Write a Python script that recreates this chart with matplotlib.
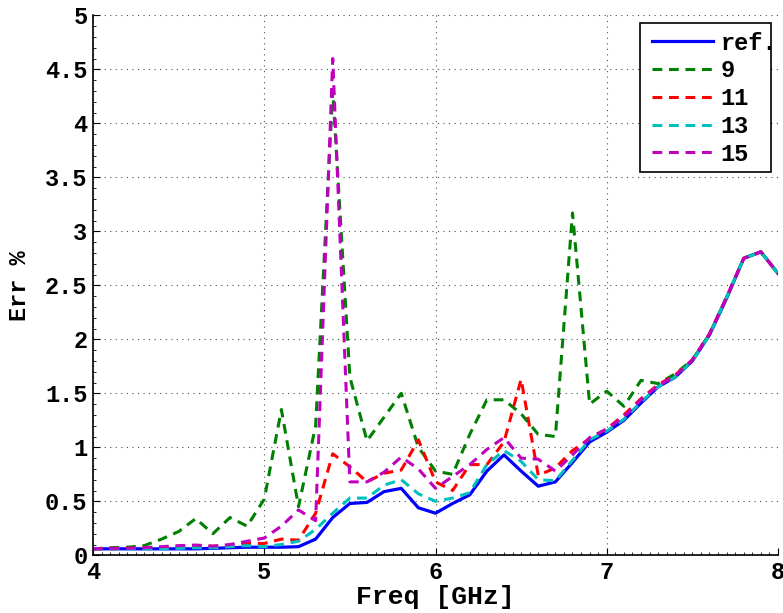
import matplotlib
matplotlib.use('Agg')
import matplotlib.pyplot as plt
from matplotlib.patches import Rectangle
from matplotlib.ticker import MultipleLocator, FuncFormatter

plt.rcParams['font.family'] = ['Liberation Mono', 'DejaVu Sans Mono']
plt.rcParams['font.weight'] = 'bold'

freq = [4.0, 4.1, 4.2, 4.3, 4.4, 4.5, 4.6, 4.7, 4.8, 4.9,
        5.0, 5.1, 5.2, 5.3, 5.4, 5.5, 5.6, 5.7, 5.8, 5.9,
        6.0, 6.1, 6.2, 6.3, 6.4, 6.5, 6.6, 6.7, 6.8, 6.9,
        7.0, 7.1, 7.2, 7.3, 7.4, 7.5, 7.6, 7.7, 7.8, 7.9, 8.0]

err_ref = [0.06, 0.06, 0.06, 0.06, 0.06, 0.06, 0.06, 0.065, 0.07, 0.075,
           0.075, 0.075, 0.08, 0.15, 0.35, 0.48, 0.49, 0.59, 0.62, 0.44,
           0.39, 0.48, 0.56, 0.78, 0.93, 0.78, 0.64, 0.68, 0.86, 1.05,
           1.14, 1.25, 1.41, 1.56, 1.65, 1.80, 2.04, 2.38, 2.75, 2.81, 2.61]

err_9 = [0.06, 0.07, 0.075, 0.09, 0.15, 0.22, 0.34, 0.20, 0.35, 0.27,
         0.52, 1.35, 0.45, 1.20, 4.30, 1.65, 1.06, 1.28, 1.50, 1.00,
         0.78, 0.75, 1.12, 1.44, 1.44, 1.31, 1.12, 1.10, 3.17, 1.40,
         1.52, 1.38, 1.62, 1.59, 1.68, 1.81, 2.05, 2.39, 2.75, 2.81, 2.61]

err_11 = [0.06, 0.06, 0.065, 0.07, 0.07, 0.075, 0.08, 0.085, 0.09, 0.11,
          0.11, 0.15, 0.14, 0.39, 0.94, 0.82, 0.68, 0.76, 0.79, 1.07,
          0.68, 0.60, 0.84, 0.84, 1.05, 1.63, 0.74, 0.81, 0.97, 1.08,
          1.17, 1.30, 1.45, 1.58, 1.67, 1.81, 2.05, 2.39, 2.75, 2.81, 2.61]

err_13 = [0.06, 0.06, 0.06, 0.06, 0.06, 0.065, 0.07, 0.07, 0.08, 0.09,
          0.08, 0.10, 0.13, 0.24, 0.39, 0.53, 0.53, 0.65, 0.70, 0.57,
          0.50, 0.53, 0.58, 0.84, 0.97, 0.87, 0.70, 0.69, 0.88, 1.07,
          1.15, 1.26, 1.42, 1.56, 1.65, 1.80, 2.04, 2.39, 2.75, 2.81, 2.61]

err_15 = [0.06, 0.065, 0.065, 0.07, 0.08, 0.09, 0.095, 0.085, 0.10, 0.13,
          0.16, 0.27, 0.42, 0.32, 4.60, 0.68, 0.68, 0.77, 0.91, 0.80,
          0.62, 0.73, 0.84, 0.98, 1.09, 0.90, 0.89, 0.78, 0.93, 1.09,
          1.17, 1.28, 1.44, 1.57, 1.66, 1.81, 2.05, 2.39, 2.75, 2.81, 2.61]

labels = ['ref.', '9', '11', '13', '15']

fig = plt.figure(figsize=(7.83, 6.13), dpi=100)
ax = fig.add_axes([0.1188, 0.0941, 0.8748, 0.8809])

dash = (3.2, 2.2)
ax.plot(freq, err_ref, color=(0, 0, 1), lw=2.3, label=labels[0])
ax.plot(freq, err_9, color=(0, 0.5, 0), lw=2.2, dashes=dash, label=labels[1])
ax.plot(freq, err_11, color=(1, 0, 0), lw=2.2, dashes=dash, label=labels[2])
ax.plot(freq, err_13, color=(0, 0.75, 0.75), lw=2.2, dashes=dash, label=labels[3])
ax.plot(freq, err_15, color=(0.75, 0, 0.75), lw=2.2, dashes=dash, label=labels[4])

ax.set_xlim(4, 8)
ax.set_ylim(0, 5)
ax.xaxis.set_major_locator(MultipleLocator(1))
ax.xaxis.set_minor_locator(MultipleLocator(0.05))
ax.yaxis.set_major_locator(MultipleLocator(0.5))
ax.yaxis.set_minor_locator(MultipleLocator(0.1))
ax.yaxis.set_major_formatter(FuncFormatter(lambda v, p: f'{v:g}'))
ax.tick_params(which='both', direction='in')
ax.tick_params(which='major', length=5, labelsize=17, pad=4)
ax.tick_params(which='minor', length=2.5)
ax.grid(True, which='major', color='0.3', linestyle=(0, (1, 4)), lw=0.8)

ax.spines['top'].set_visible(False)
ax.spines['right'].set_visible(False)
ax.spines['left'].set_linewidth(1.2)
ax.spines['bottom'].set_linewidth(1.2)

ax.set_xlabel('Freq [GHz]', fontsize=19, fontweight='bold', labelpad=1)
ax.set_ylabel('Err %', fontsize=17, fontweight='bold', labelpad=10)

# legend box is narrower than its text, like the original (text runs past the edge)
ax.add_patch(Rectangle((0.7985, 0.7098), 0.1913, 0.2759, transform=ax.transAxes,
                       facecolor='white', edgecolor='black', lw=1.2,
                       clip_on=False, zorder=4))
leg = ax.legend(loc='upper left', fontsize=17, frameon=False, handlelength=2.6,
                handletextpad=0.3, borderpad=0.35, labelspacing=0.2,
                borderaxespad=0, bbox_to_anchor=(0.804, 0.985))
leg.set_zorder(5)

fig.savefig('out.png', dpi=100)
